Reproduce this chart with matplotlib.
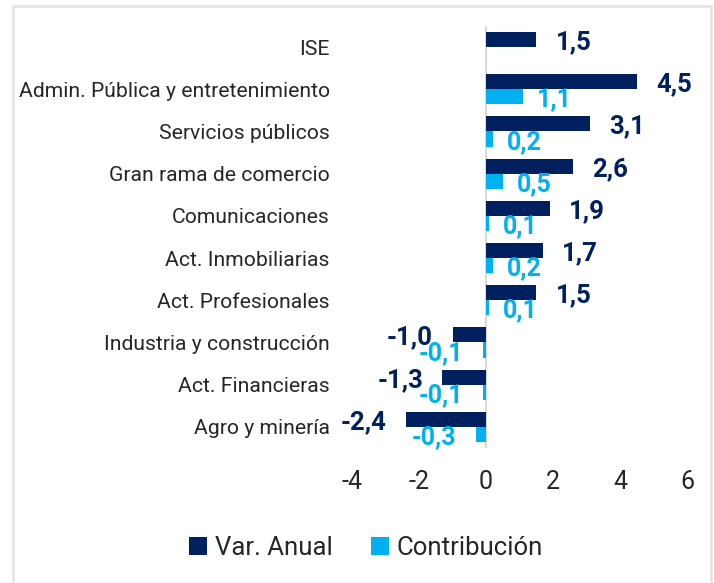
import matplotlib.pyplot as plt
import numpy as np
from matplotlib.patches import Rectangle

categories = [
    "ISE",
    "Admin. Pública y entretenimiento",
    "Servicios públicos",
    "Gran rama de comercio",
    "Comunicaciones",
    "Act. Inmobiliarias",
    "Act. Profesionales",
    "Industria y construcción",
    "Act. Financieras",
    "Agro y minería",
]
var_anual = [1.5, 4.5, 3.1, 2.6, 1.9, 1.7, 1.5, -1.0, -1.3, -2.4]
contribucion = [None, 1.1, 0.2, 0.5, 0.1, 0.2, 0.1, -0.1, -0.1, -0.3]
xticks = [-4, -2, 0, 2, 4, 6]

NAVY = "#002060"
CYAN = "#00B0F0"

plt.rcParams["font.family"] = ["Roboto", "DejaVu Sans"]

fig = plt.figure(figsize=(7.14, 5.83), dpi=100)
ax = fig.add_axes([352 / 714, 1 - 448 / 583, 335 / 714, 422 / 583])

# light chart border like the Excel chart area
fig.patches.append(Rectangle((13 / 714, -0.1), 698 / 714, 1.1 - 6 / 583,
                             transform=fig.transFigure, fill=False,
                             edgecolor="#E3E3E3", linewidth=1.8))

y = np.arange(len(categories))
h = 0.36
ax.barh(y - h / 2, var_anual, height=h, color=NAVY, label="Var. Anual")
cy = [yy for yy, c in zip(y, contribucion) if c is not None]
cv = [c for c in contribucion if c is not None]
ax.barh(np.array(cy) + h / 2, cv, height=h, color=CYAN, label="Contribución")


def fmt(v):
    return f"{v:.1f}".replace(".", ",")


for yy, v in zip(y, var_anual):
    ax.annotate(fmt(v), (v, yy - h / 2), xytext=(14 if v > 0 else -14, -2),
                textcoords="offset points", ha="left" if v > 0 else "right",
                va="center", color=NAVY, fontsize=18.5, fontweight="bold")
for yy, v in zip(cy, cv):
    ax.annotate(fmt(v), (v, yy + h / 2), xytext=(10 if v > 0 else -14, -2),
                textcoords="offset points", ha="left" if v > 0 else "right",
                va="center", color=CYAN, fontsize=18, fontweight="bold")

ax.set_xlim(-4, 6)
ax.set_ylim(len(categories) - 0.5, -0.5)
ax.set_xticks(xticks)
ax.set_xticklabels([str(t) for t in xticks], fontsize=18, color="#262626")
ax.set_yticks(y)
ax.set_yticklabels(categories, fontsize=15.2, color="#262626")
ax.tick_params(axis="both", length=0)
ax.tick_params(axis="y", pad=16)
ax.tick_params(axis="x", pad=16)
for s in ax.spines.values():
    s.set_visible(False)
ax.axvline(0, color="#D9D9D9", linewidth=1.5, zorder=0)

fig.legend(loc="center", bbox_to_anchor=(366 / 714, 1 - 548 / 583), ncol=2,
           frameon=False, fontsize=18.5, handlelength=0.7, handleheight=0.7,
           handletextpad=0.3, columnspacing=1.5, labelcolor="#262626")

fig.savefig("out.png", dpi=100)
